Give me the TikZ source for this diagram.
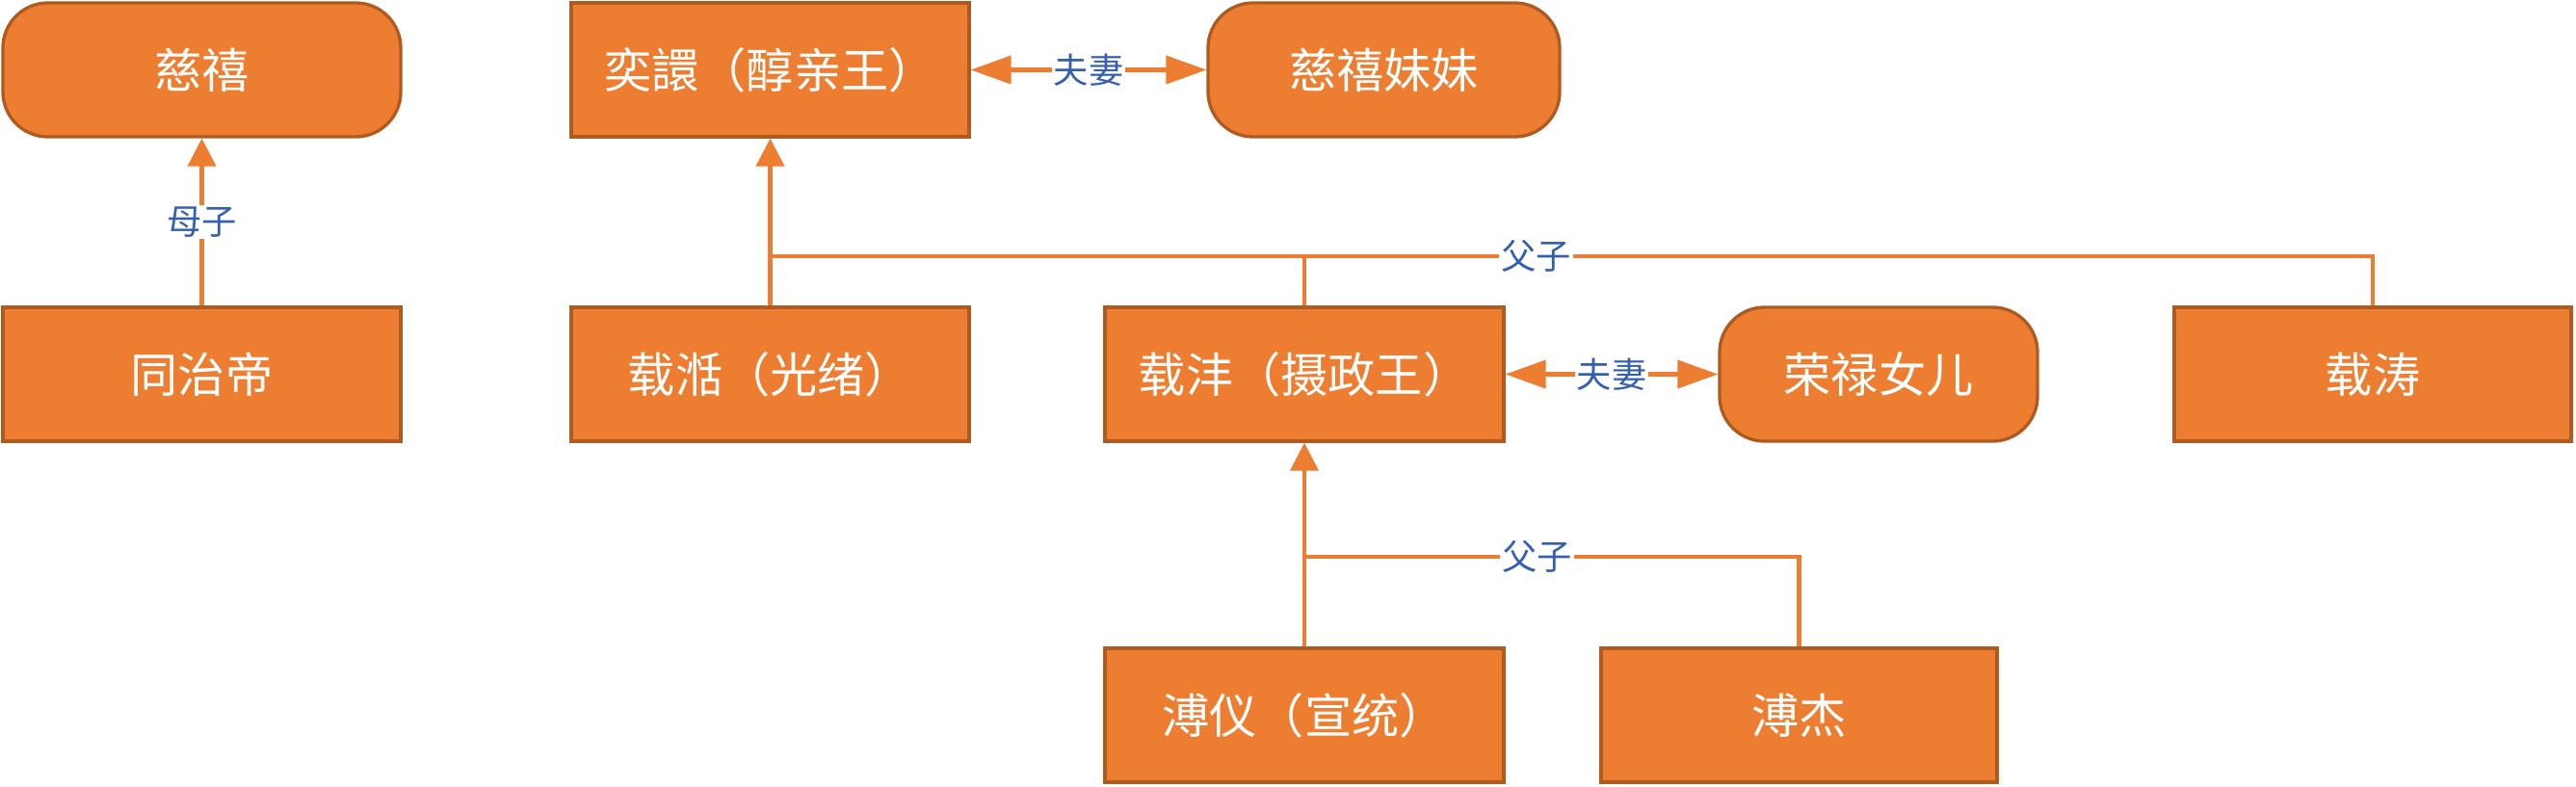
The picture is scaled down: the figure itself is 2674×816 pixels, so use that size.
\documentclass[tikz,border=0pt]{standalone}
\usepackage{fontspec}
\setmainfont{Noto Sans CJK SC}
\usetikzlibrary{arrows.meta}
\definecolor{boxfill}{HTML}{ED7D31}
\definecolor{boxline}{HTML}{AE5A21}
\definecolor{lblblue}{HTML}{3560B0}
\tikzset{
  person/.style={draw=boxline, fill=boxfill, line width=1.0mm, text=white,
    minimum height=139*0.3mm, inner sep=0pt,
    font=\fontsize{42pt}{48pt}\selectfont},
  rperson/.style={person, rounded corners=14mm},
  link/.style={draw=boxfill, line width=1.25mm},
  uparrow/.style={link, -{Triangle[length=8.7mm, width=8.7mm]}},
  wedarrow/.style={link, {Triangle[length=12.6mm, width=8.7mm]}-{Triangle[length=12.6mm, width=8.7mm]}},
  lbl/.style={fill=white, text=lblblue, inner sep=0.6mm,
    font=\fontsize{31pt}{36pt}\selectfont}
}
\begin{document}
\begin{tikzpicture}[x=0.3mm, y=-0.3mm]
\useasboundingbox (0,0) rectangle (2674,816);
% nodes
\node[rperson, minimum width=413*0.3mm] (cixi) at (209.5,72.5) {慈禧};
\node[person, minimum width=413*0.3mm] (yixuan) at (799.5,72.5) {奕譞（醇亲王）};
\node[rperson, minimum width=365*0.3mm] (sister) at (1436.5,72.5) {慈禧妹妹};
\node[person, minimum width=413*0.3mm] (tongzhi) at (209.5,388.5) {同治帝};
\node[person, minimum width=413*0.3mm] (zaitian) at (799.5,388.5) {载湉（光绪）};
\node[person, minimum width=414*0.3mm] (zaifeng) at (1354,388.5) {载沣（摄政王）};
\node[rperson, minimum width=330*0.3mm] (ronglu) at (1950,388.5) {荣禄女儿};
\node[person, minimum width=412*0.3mm] (zaitao) at (2463,388.5) {载涛};
\node[person, minimum width=414*0.3mm] (puyi) at (1354,742.5) {溥仪（宣统）};
\node[person, minimum width=411*0.3mm] (pujie) at (1867.5,742.5) {溥杰};
% junctions
\coordinate (j1) at (799.5,266);
\coordinate (j2) at (1354,578);
% connectors
\draw[uparrow] (tongzhi.north) -- node[lbl] {母子} (cixi.south);
\draw[wedarrow] (yixuan.east) -- node[lbl] {夫妻} (sister.west);
\draw[wedarrow] (zaifeng.east) -- node[lbl] {夫妻} (ronglu.west);
\draw[uparrow] (zaitian.north) -- (yixuan.south);
\draw[link] (j1) -- node[lbl, pos=0.478] {父子} (zaitao.north |- j1) -- (zaitao.north);
\draw[link] (zaifeng.north) -- (zaifeng.north |- j1);
\draw[uparrow] (puyi.north) -- (zaifeng.south);
\draw[link] (j2) -- node[lbl, pos=0.47] {父子} (pujie.north |- j2) -- (pujie.north);
\end{tikzpicture}
\end{document}
